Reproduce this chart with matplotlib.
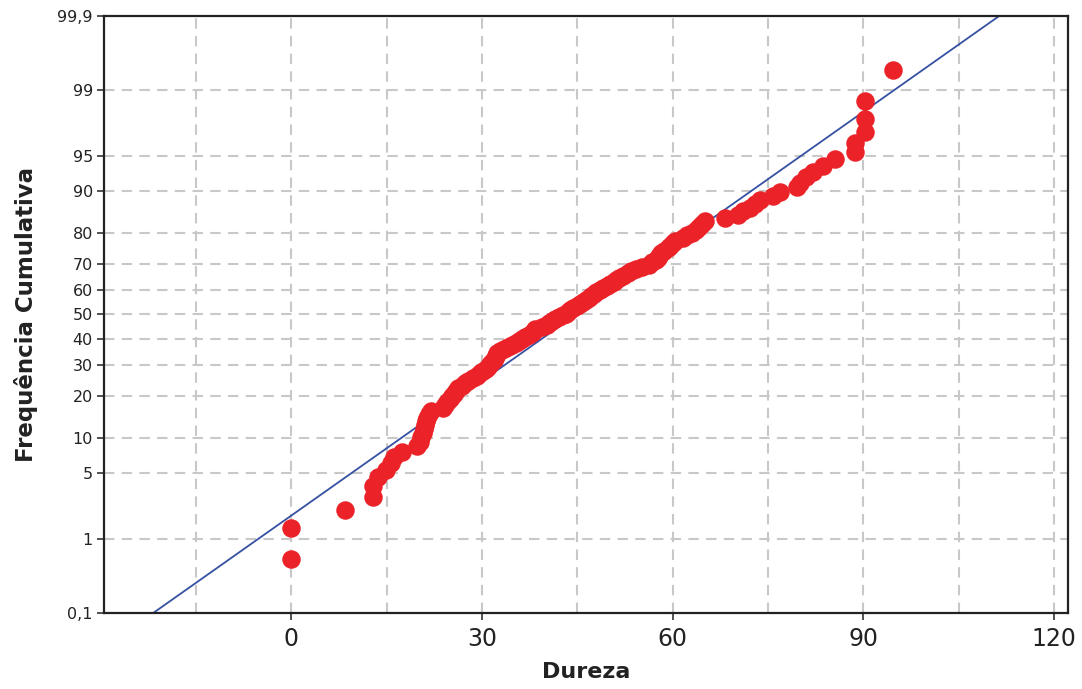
import numpy as np
import matplotlib
matplotlib.use("Agg")
import matplotlib.pyplot as plt
from statistics import NormalDist

# Hardness measurements (sorted), one per specimen
dureza = [
    0.0, 0.0, 8.4, 12.8, 12.9, 13.6, 14.9, 15.6, 16.1, 17.4,
    19.7, 20.2, 20.4, 20.7, 20.8, 21.0, 21.2, 21.3, 21.6, 21.9,
    23.8, 24.1, 24.4, 24.9, 25.2, 25.5, 25.9, 26.2, 26.8, 27.3,
    27.8, 28.5, 29.2, 29.6, 30.1, 30.6, 30.9, 31.2, 31.5, 31.8,
    32.0, 32.2, 32.3, 32.8, 33.4, 34.0, 34.7, 35.3, 35.8, 36.3,
    36.7, 37.4, 37.8, 38.1, 38.4, 39.5, 40.2, 40.6, 41.0, 41.4,
    42.1, 42.7, 43.2, 43.5, 43.8, 44.3, 44.9, 45.4, 45.8, 46.3,
    46.8, 47.1, 47.6, 48.0, 48.5, 49.0, 49.6, 50.2, 50.7, 51.0,
    51.5, 52.1, 52.9, 53.5, 54.2, 55.1, 56.2, 56.7, 57.3, 57.6,
    57.9, 58.2, 58.7, 59.2, 59.5, 60.1, 60.4, 61.6, 62.2, 63.0,
    63.6, 64.1, 64.6, 65.0, 68.2, 70.2, 71.0, 72.1, 72.9, 73.7,
    75.7, 76.8, 79.5, 80.1, 81.0, 82.0, 83.6, 85.5, 88.6, 88.6,
    90.2, 90.2, 90.2, 94.6,
]

y_ticks = [0.1, 1, 5, 10, 20, 30, 40, 50, 60, 70, 80, 90, 95, 99, 99.9]
y_tick_labels = ["0,1", "1", "5", "10", "20", "30", "40", "50", "60",
                 "70", "80", "90", "95", "99", "99,9"]
x_ticks = [0, 30, 60, 90, 120]

nd = NormalDist()


def prob_fwd(p):
    p = np.clip(np.asarray(p, dtype=float), 1e-9, 100 - 1e-9)
    return np.array([nd.inv_cdf(v / 100.0) for v in p.ravel()]).reshape(p.shape)


def prob_inv(z):
    z = np.asarray(z, dtype=float)
    return np.array([nd.cdf(v) * 100.0 for v in z.ravel()]).reshape(z.shape)


x = np.sort(np.asarray(dureza, dtype=float))
n = len(x)
ranks = np.arange(1, n + 1)
freq = (ranks - 0.3) / (n + 0.4) * 100.0  # median-rank plotting positions (%)

mu = x.mean()
sigma = x.std(ddof=1)
p_line = np.linspace(0.1, 99.9, 400)
x_line = np.array([mu + sigma * nd.inv_cdf(v / 100.0) for v in p_line])

fig = plt.figure(figsize=(10.82, 6.89), dpi=100)
ax = fig.add_axes([0.0961, 0.1103, 0.8910, 0.8665])
ax.set_yscale("function", functions=(prob_fwd, prob_inv))
ax.set_ylim(0.1, 99.9)
ax.set_xlim(-29.5, 122.2)

grid_kw = dict(color="#c8c8c8", linewidth=1.5, linestyle=(0, (5, 3.5)), zorder=0)
for gx in np.arange(-15, 121, 15):
    ax.axvline(gx, **grid_kw)
for gy in y_ticks[1:-1]:
    ax.axhline(gy, **grid_kw)

ax.plot(x_line, p_line, color="#3650a2", linewidth=1.3, zorder=2)
ax.plot(x, freq, linestyle="none", marker="o", markersize=12.3,
        markerfacecolor="#ec2229", markeredgecolor="#ec2229", zorder=3)

ax.set_yticks(y_ticks)
ax.set_yticklabels(y_tick_labels)
ax.yaxis.set_minor_locator(matplotlib.ticker.NullLocator())
ax.set_xticks(x_ticks)
ax.set_xticklabels([str(t) for t in x_ticks])

ax.tick_params(axis="y", direction="out", length=5, width=1.2, color="#333333",
               labelsize=11.5, labelcolor="#222222", pad=3)
ax.tick_params(axis="x", direction="out", length=5, width=1.2, color="#333333",
               labelsize=17, labelcolor="#222222", pad=5)
for lab in ax.get_xticklabels():
    lab.set_family(["Liberation Sans Narrow", "DejaVu Sans"])

for s in ax.spines.values():
    s.set_linewidth(1.6)
    s.set_color("#222222")

ax.set_xlabel("Dureza", fontsize=16, fontweight="bold", color="#222222",
              family=["DejaVu Sans"], labelpad=8)
ax.set_ylabel("Frequência Cumulativa", fontsize=16.5, fontweight="heavy",
              color="#222222", family=["DejaVu Sans"], labelpad=14)

fig.savefig("out.png", dpi=100)
